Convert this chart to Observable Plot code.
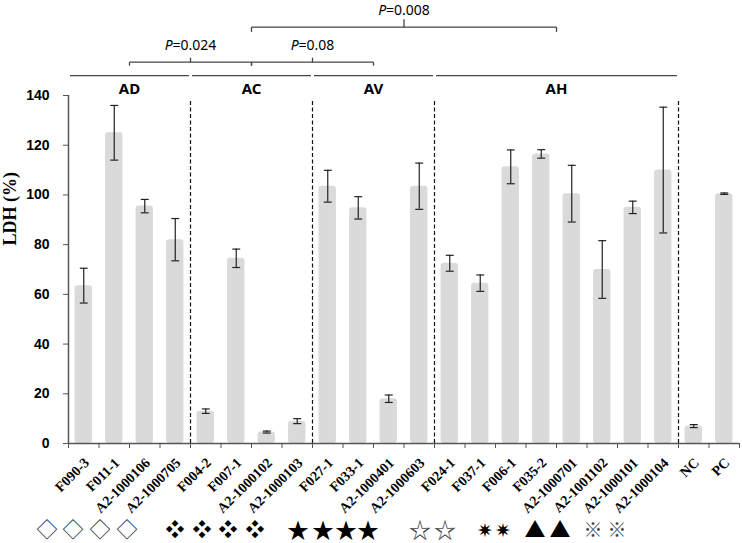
<!DOCTYPE html>
<html><head><meta charset="utf-8">
<script src="https://cdn.jsdelivr.net/npm/d3@7"></script>
<script src="https://cdn.jsdelivr.net/npm/@observablehq/plot@0.6"></script>
<style>
body{margin:0;background:#fff;}
#wrap{position:relative;width:742px;}
#symbols svg{display:block;}
#symbols text{opacity:0.99;}
</style></head><body>
<div id="wrap"><div id="chart"></div><div id="symbols"></div></div>
<script>
const categories = ["F090-3","F011-1","A2-1000106","A2-1000705","F004-2","F007-1","A2-1000102","A2-1000103","F027-1","F033-1","A2-1000401","A2-1000603","F024-1","F037-1","F006-1","F035-2","A2-1000701","A2-1001102","A2-1000101","A2-1000104","NC","PC"];
const ldh = [63.5,125,95.5,82,13,74.5,4.6,9,103.5,94.8,18,103.5,72.5,64.5,111.3,116.5,100.5,70,95,110,7,100.5];
const sd = [7,11,2.7,8.5,0.9,3.7,0.4,1,6.4,4.5,1.5,9.3,3.2,3.3,6.8,1.7,11.4,11.6,2.5,25.3,0.6,0.3];
const groupNames = ["AD","AC","AV","AH"];
const groupSizes = [4,4,4,8];
const compFrom = ["AD","AC","AC"];
const compTo = ["AC","AV","AH"];
const compP = ["0.024","0.08","0.008"];
const compLevel = [1,1,2];
const yTicks = [0,20,40,60,80,100,120,140];
const symbolChars = ["◇","❖","★","☆","✷","▲","※"];
const symbolCounts = [4,4,4,2,2,2,2];

const data = categories.map((name,i)=>({name,i,v:ldh[i],e:sd[i]}));
let acc=0;
const groups = groupNames.map((g,k)=>{const o={g,start:acc,end:acc+groupSizes[k]};acc+=groupSizes[k];return o;});
const gc = g => {const o=groups.find(d=>d.g===g);return (o.start+o.end)/2;};
const boundaries = groups.map(d=>d.end);
const levelY = {1:153.4,2:167.5};
const dropY = {1:1.4,2:1.9};
const tipY = {1:1.8,2:3.2};
const comps = compFrom.map((a,k)=>({a:gc(a),b:gc(compTo[k]),p:compP[k],lv:compLevel[k]}));
const segs = comps.flatMap(c=>{const y=levelY[c.lv],m=(c.a+c.b)/2;return [
  {x1:c.a,x2:c.b,y1:y,y2:y},{x1:c.a,x2:c.a,y1:y,y2:y-dropY[c.lv]},{x1:c.b,x2:c.b,y1:y,y2:y-dropY[c.lv]},{x1:m,x2:m,y1:y,y2:y+tipY[c.lv]}];});
const caps = data.flatMap(d=>[{i:d.i,y:d.v-d.e},{i:d.i,y:d.v+d.e}]);
const axisColor = "#555";

const plot = Plot.plot({
  width:742,height:510,marginTop:95,marginBottom:67,marginLeft:68,marginRight:3,
  x:{type:"linear",domain:[0,categories.length],axis:null},
  y:{domain:[0,140],axis:null},
  style:{fontFamily:"Liberation Sans",color:"#000",background:"#fff",overflow:"visible"},
  marks:[
    Plot.rectY(data,{x1:d=>d.i+0.215,x2:d=>d.i+0.785,y1:0,y2:"v",fill:"#dadada",rx:3}),
    Plot.ruleX(data,{x:d=>d.i+0.5,y1:d=>d.v-d.e,y2:d=>d.v+d.e,stroke:"#222",strokeWidth:1.2}),
    Plot.link(caps,{x1:d=>d.i+0.37,x2:d=>d.i+0.63,y1:"y",y2:"y",stroke:"#222",strokeWidth:1.2}),
    Plot.ruleX(boundaries,{x:d=>d,y1:0,y2:140,stroke:"#111",strokeWidth:1.2,strokeDasharray:"4,2.5",insetBottom:-6}),
    Plot.ruleY([0],{stroke:axisColor,strokeWidth:1.5}),
    Plot.ruleX([0],{y1:0,y2:140,stroke:axisColor,strokeWidth:1.5}),
    Plot.axisY({ticks:yTicks,tickSize:5,tickPadding:14,fontSize:14,fontWeight:"bold",label:null,stroke:axisColor,fill:"#000"}),
    Plot.axisX({ticks:d3.range(categories.length+1),tickSize:5,tickFormat:()=>"",label:null,stroke:axisColor}),
    Plot.text(data,{x:d=>d.i+0.5,y:0,text:"name",rotate:-45,textAnchor:"end",dx:3,dy:17,fontFamily:"Liberation Serif",fontWeight:"bold",fontSize:14,fill:"#000"}),
    Plot.text(["LDH (%)"],{frameAnchor:"left",text:d=>d,rotate:-90,dx:-58,dy:-24,fontFamily:"Liberation Serif",fontWeight:"bold",fontSize:18,fill:"#000"}),
    Plot.link(groups,{x1:d=>d.start+0.05,x2:d=>d.end-0.05,y1:148,y2:148,stroke:"#444",strokeWidth:1.3}),
    Plot.text(groups,{x:d=>(d.start+d.end)/2,y:142.4,text:"g",fontFamily:"Noto Sans",fontWeight:"bold",fontSize:15,fill:"#000"}),
    Plot.link(segs,{x1:"x1",x2:"x2",y1:"y1",y2:"y2",stroke:"#444",strokeWidth:1.3}),
    Plot.text(comps,{x:d=>(d.a+d.b)/2,y:d=>levelY[d.lv]+6.8,text:d=>"P="+d.p,fontFamily:"Noto Sans",fontSize:14,fill:"#000"})
  ]
});
document.getElementById("chart").appendChild(plot);
d3.select(plot).selectAll("text").each(function(){
  const t=this.textContent;
  if(/^P=/.test(t)){
    const s=d3.select(this); s.text("");
    s.append("tspan").attr("font-style","italic").text("P");
    s.append("tspan").text(t.slice(1));
  }
});
// symbol row below the chart
const symPos = [[47,73,100,127],[175,202,228,255],[298,323,346,368],[420,445],[485,503],[535,560],[593,617]];
const symStyle = [[21,"#333"],[19,"#000"],[22,"#000"],[22,"#444"],[19,"#000"],[21,"#000"],[19,"#444"]];
const sv = d3.select("#symbols").append("svg").attr("width",742).attr("height",33);
symbolChars.forEach((c,k)=>{
  for(let j=0;j<symbolCounts[k];j++){
    sv.append("text").attr("x",symPos[k][j]).attr("y",18)
      .attr("text-anchor","middle").attr("dominant-baseline","central")
      .attr("font-family","'Noto Sans CJK KR','DejaVu Sans',sans-serif")
      .attr("font-size",symStyle[k][0]).attr("fill",symStyle[k][1]).text(c);
  }
});
</script>
</body></html>
